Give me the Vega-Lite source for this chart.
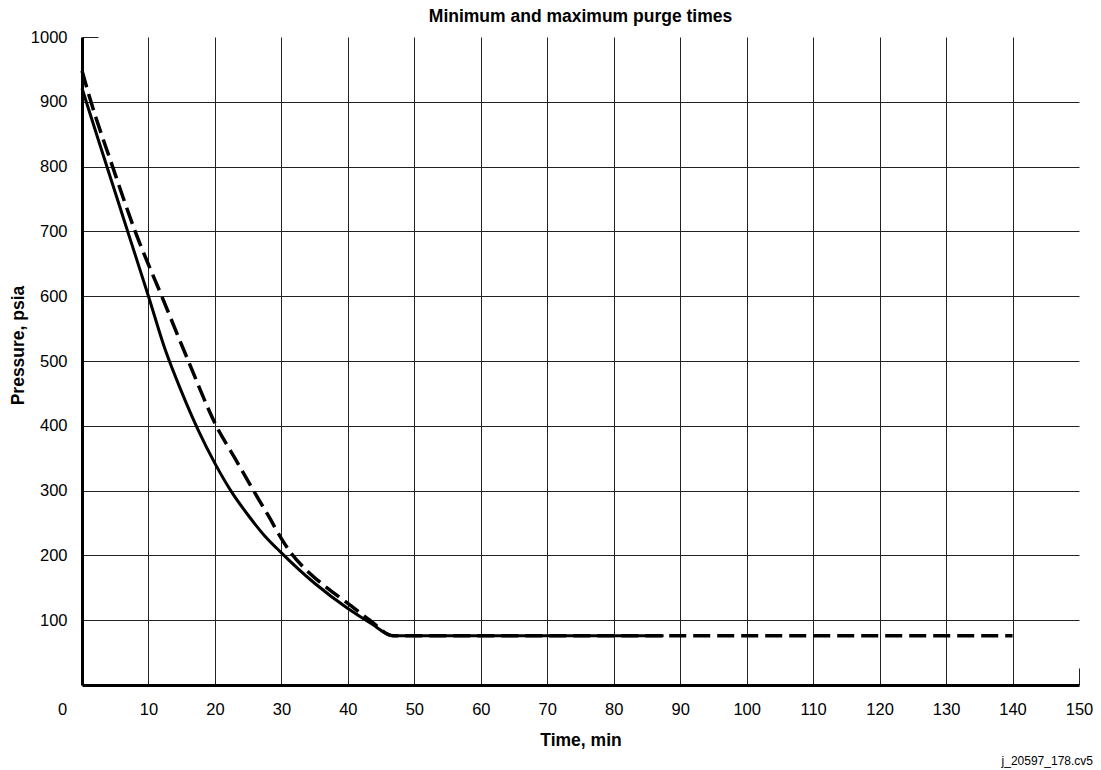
{
  "$schema": "https://vega.github.io/schema/vega-lite/v6.json",
  "width": 997,
  "height": 648,
  "autosize": "none",
  "padding": {"left": 82, "top": 37, "right": 22, "bottom": 85},
  "background": "white",
  "config": {"view": {"stroke": null}, "font": "Liberation Sans"},
  "title": {
    "text": "Minimum and maximum purge times",
    "font": "Liberation Sans",
    "fontSize": 17.5,
    "fontWeight": "bold",
    "color": "#000",
    "anchor": "middle",
    "baseline": "alphabetic",
    "offset": -10
  },
  "data": {
    "values": [
      {"series": "min", "t": 0, "p": 921},
      {"series": "min", "t": 2.5, "p": 840},
      {"series": "min", "t": 5, "p": 760},
      {"series": "min", "t": 7.5, "p": 680},
      {"series": "min", "t": 10, "p": 600},
      {"series": "min", "t": 12.5, "p": 518},
      {"series": "min", "t": 15, "p": 452},
      {"series": "min", "t": 17.5, "p": 393},
      {"series": "min", "t": 20, "p": 342},
      {"series": "min", "t": 22.5, "p": 298},
      {"series": "min", "t": 25, "p": 262},
      {"series": "min", "t": 27.5, "p": 230},
      {"series": "min", "t": 30, "p": 204},
      {"series": "min", "t": 35, "p": 157},
      {"series": "min", "t": 40, "p": 118},
      {"series": "min", "t": 43.5, "p": 95},
      {"series": "min", "t": 46.8, "p": 76},
      {"series": "min", "t": 87.5, "p": 76},
      {"series": "max", "t": 0, "p": 948},
      {"series": "max", "t": 1.2, "p": 905},
      {"series": "max", "t": 4.6, "p": 800},
      {"series": "max", "t": 8, "p": 700},
      {"series": "max", "t": 12, "p": 600},
      {"series": "max", "t": 16, "p": 500},
      {"series": "max", "t": 20.2, "p": 400},
      {"series": "max", "t": 23, "p": 350},
      {"series": "max", "t": 25.8, "p": 300},
      {"series": "max", "t": 28, "p": 262},
      {"series": "max", "t": 30, "p": 226},
      {"series": "max", "t": 31.5, "p": 203},
      {"series": "max", "t": 33.5, "p": 180},
      {"series": "max", "t": 36, "p": 157},
      {"series": "max", "t": 40, "p": 126},
      {"series": "max", "t": 43.3, "p": 100},
      {"series": "max", "t": 46.8, "p": 76},
      {"series": "max", "t": 140, "p": 76}
    ]
  },
  "layer": [
    {
      "transform": [{"filter": "datum.series == 'min'"}],
      "mark": {"type": "line", "interpolate": "monotone", "color": "#000", "strokeWidth": 3},
      "encoding": {
        "x": {
          "field": "t",
          "type": "quantitative",
          "scale": {"domain": [0, 150], "nice": false, "zero": false},
          "axis": {
            "values": [0, 10, 20, 30, 40, 50, 60, 70, 80, 90, 100, 110, 120, 130, 140, 150],
            "format": "d",
            "title": "Time, min",
            "titleFont": "Liberation Sans",
            "titleFontSize": 17.5,
            "titleFontWeight": "bold",
            "titleColor": "#000",
            "titleY": 60,
            "titleBaseline": "alphabetic",
            "labelFont": "Liberation Sans",
            "labelFontSize": 16.5,
            "labelColor": "#000",
            "labelPadding": 33,
            "labelBaseline": "top",
            "labelFlush": false,
            "labelOverlap": false,
            "labelOffset": {"condition": {"test": "datum.value == 0", "value": -20}, "value": 0},
            "domainColor": "#000",
            "domainWidth": 3,
            "grid": true,
            "gridColor": "#222",
            "gridWidth": 1,
            "gridOpacity": {"condition": {"test": "datum.value == 150 || datum.value == 0", "value": 0}, "value": 1},
            "ticks": true,
            "tickSize": -17,
            "tickColor": "#222",
            "tickWidth": 1
          }
        },
        "y": {
          "field": "p",
          "type": "quantitative",
          "scale": {"domain": [0, 1000], "nice": false},
          "axis": {
            "values": [100, 200, 300, 400, 500, 600, 700, 800, 900, 1000],
            "format": "d",
            "title": "Pressure, psia",
            "titleFont": "Liberation Sans",
            "titleFontSize": 17.5,
            "titleFontWeight": "bold",
            "titleColor": "#000",
            "titleAngle": 270,
            "titleX": -64,
            "titleY": 308,
            "titleAlign": "center",
            "titleBaseline": "middle",
            "labelFont": "Liberation Sans",
            "labelFontSize": 16.5,
            "labelColor": "#000",
            "labelPadding": 31,
            "labelFlush": false,
            "labelOverlap": false,
            "domainColor": "#000",
            "domainWidth": 3,
            "grid": true,
            "gridColor": "#222",
            "gridWidth": 1,
            "gridOpacity": {"condition": {"test": "datum.value == 1000", "value": 0}, "value": 1},
            "ticks": true,
            "tickSize": -16,
            "tickColor": "#222",
            "tickWidth": 1
          }
        }
      }
    },
    {
      "transform": [{"filter": "datum.series == 'max'"}],
      "mark": {"type": "line", "interpolate": "monotone", "color": "#000", "strokeWidth": 3.5, "strokeDash": [17, 7]},
      "encoding": {
        "x": {"field": "t", "type": "quantitative", "scale": {"domain": [0, 150], "nice": false, "zero": false}},
        "y": {"field": "p", "type": "quantitative", "scale": {"domain": [0, 1000], "nice": false}}
      }
    },
    {
      "data": {"values": [{"note": "j_20597_178.cv5"}]},
      "mark": {"type": "text", "font": "Liberation Sans", "fontSize": 12, "color": "#000", "align": "right", "baseline": "alphabetic", "dx": 14},
      "encoding": {
        "x": {"datum": 150, "type": "quantitative", "scale": {"domain": [0, 150], "nice": false, "zero": false}},
        "y": {"datum": -123, "type": "quantitative", "scale": {"domain": [0, 1000], "nice": false}},
        "text": {"field": "note", "type": "nominal"}
      }
    }
  ]
}
